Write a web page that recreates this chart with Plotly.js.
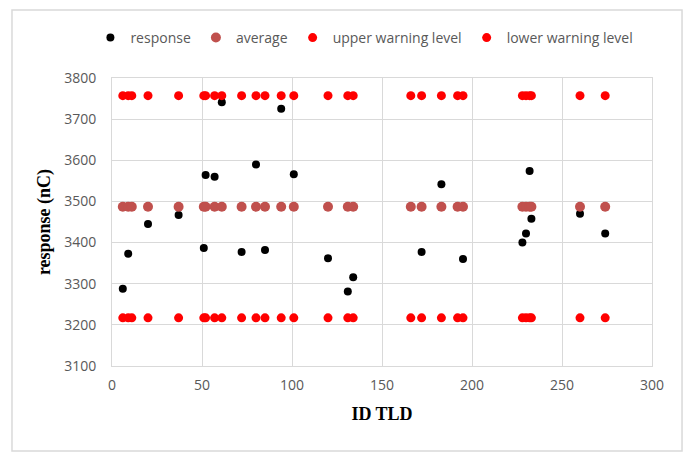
<!DOCTYPE html>
<html>
<head>
<meta charset="utf-8">
<script src="https://cdn.plot.ly/plotly-3.0.1.min.js"></script>
<style>
html,body{margin:0;padding:0;background:#fff;}
#chart{width:688px;height:452px;}
</style>
</head>
<body>
<div id="chart"></div>
<script>
// ID of each TLD (x values)
const idTLD = [6, 9, 11, 20, 37, 51, 52, 57, 61, 72, 80, 85, 94, 101, 120, 131, 134, 166, 172, 183, 192, 195, 228, 230, 232, 233, 260, 274];
// measured responses (nC)
const response = [3288, 3373, 3487, 3445, 3467, 3387, 3564, 3560, 3741, 3377, 3590, 3382, 3725, 3566, 3362, 3281, 3316, 3487, 3377, 3542, 3487, 3360, 3400, 3422, 3574, 3458, 3470, 3422];
// control levels (nC)
const averageLevel = 3487;
const upperWarning = 3757;
const lowerWarning = 3217;

const averageVals = idTLD.map(() => averageLevel);
const upperVals = idTLD.map(() => upperWarning);
const lowerVals = idTLD.map(() => lowerWarning);

const xTicks = [0, 50, 100, 150, 200, 250, 300];
const yTicks = [3100, 3200, 3300, 3400, 3500, 3600, 3700, 3800];

const traces = [
  {x: idTLD, y: response, name: 'response', type: 'scatter', mode: 'markers',
   marker: {color: '#000000', size: 8}},
  {x: idTLD, y: averageVals, name: 'average', type: 'scatter', mode: 'markers',
   marker: {color: '#C0504D', size: 10}},
  {x: idTLD, y: upperVals, name: 'upper warning level', type: 'scatter', mode: 'markers',
   marker: {color: '#FF0000', size: 9}},
  {x: idTLD, y: lowerVals, name: 'lower warning level', type: 'scatter', mode: 'markers',
   marker: {color: '#FF0000', size: 9}}
];

const gridC = '#D9D9D9';
const tickFont = {family: 'Open Sans, sans-serif', size: 14, color: '#595959'};
const titleFont = {family: 'Liberation Serif, Times New Roman, serif', size: 18, color: '#000000'};

const layout = {
  width: 688, height: 452,
  margin: {l: 112, r: 36, t: 78, b: 86},
  paper_bgcolor: '#ffffff', plot_bgcolor: '#ffffff',
  showlegend: true,
  legend: {orientation: 'h', x: -0.04, xanchor: 'left', y: 1.139, yanchor: 'middle',
           font: {family: 'Open Sans, sans-serif', size: 14, color: '#595959'},
           itemwidth: 30, tracegroupgap: 0, bgcolor: 'rgba(0,0,0,0)'},
  xaxis: {range: [0, 300], tickvals: xTicks, ticktext: xTicks.map(String),
          showgrid: true, gridcolor: gridC, gridwidth: 1, zeroline: false,
          showline: true, linecolor: gridC, mirror: true, ticks: '',
          tickfont: tickFont, ticklabelstandoff: 6,
          title: {text: '<b>ID TLD</b>', font: titleFont, standoff: 14}},
  yaxis: {range: [3100, 3800], tickvals: yTicks, ticktext: yTicks.map(String),
          showgrid: true, gridcolor: gridC, gridwidth: 1, zeroline: false,
          showline: true, linecolor: gridC, mirror: true, ticks: '',
          tickfont: tickFont, ticklabelstandoff: 12,
          title: {text: '<b>response (nC)</b>', font: titleFont, standoff: 8}},
  shapes: [{type: 'rect', xref: 'paper', yref: 'paper',
            x0: -0.1852, x1: 1.0556, y0: -0.2951, y1: 1.2361,
            line: {color: '#D9D9D9', width: 1.5}, fillcolor: 'rgba(0,0,0,0)', layer: 'below'}]
};

Plotly.newPlot('chart', traces, layout, {displayModeBar: false, staticPlot: true});
</script>
</body>
</html>
